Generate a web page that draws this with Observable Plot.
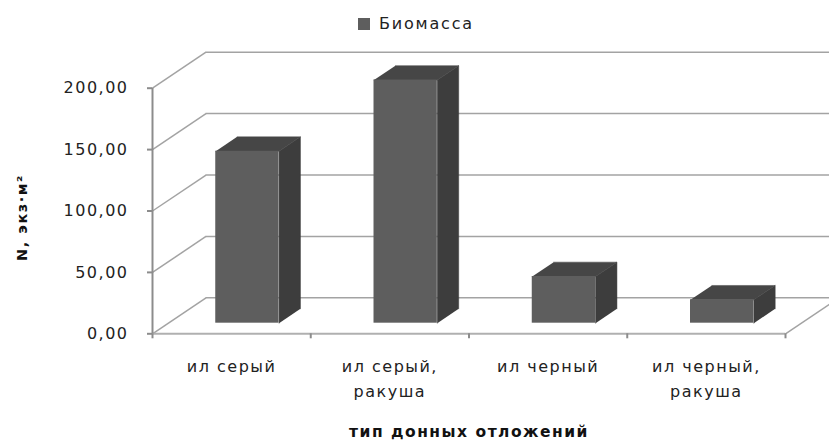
<!DOCTYPE html>
<html><head><meta charset="utf-8">
<script src="https://cdn.jsdelivr.net/npm/d3@7"></script>
<script src="https://cdn.jsdelivr.net/npm/@observablehq/plot@0.6"></script>
<style>
body{margin:0;background:#fff;font-family:"DejaVu Sans",sans-serif;}
#legend{height:40px;position:relative;}
#legend .sw{position:absolute;left:358px;top:18px;width:12px;height:12px;background:#5e5e5e;}
#legend .lt{position:absolute;left:379px;top:13px;font-size:16px;line-height:22px;letter-spacing:1.8px;color:#222;}
#chart svg text{letter-spacing:1.5px;}
</style></head><body>
<div id="legend"><span class="sw"></span><span class="lt"></span></div>
<div id="chart"></div>
<script>
const categories = ["ил серый", "ил серый,\nракуша", "ил черный", "ил черный,\nракуша"];
const values = [140, 198, 38, 19];
const yTicks = [0, 50, 100, 150, 200];
const yTickLabels = ["0,00", "50,00", "100,00", "150,00", "200,00"];
const seriesName = "Биомасса";
const xTitle = "тип донных отложений";
const yTitle = "N, экз·м²";

document.querySelector("#legend .lt").textContent = seriesName;

// 3D depth expressed in data units (x: category bands, y: value units)
const DX = 0.338, DY = 29.3;
const F0 = 0.295, F1 = 0.695, BAR = 0.4;
const bDX = (F1 - F0) * DX, bDY = (F1 - F0) * DY;

const bars = categories.map((c, i) => ({
  i, v: values[i],
  x1: i + 0.5 - BAR / 2 + F0 * DX,
  x2: i + 0.5 + BAR / 2 + F0 * DX,
  y0: F0 * DY,
  y1: values[i] + F0 * DY
}));
const topPts = bars.flatMap(b => [
  {id: b.i, x: b.x1, y: b.y1}, {id: b.i, x: b.x2, y: b.y1},
  {id: b.i, x: b.x2 + bDX, y: b.y1 + bDY}, {id: b.i, x: b.x1 + bDX, y: b.y1 + bDY}
]);
const sidePts = bars.flatMap(b => [
  {id: b.i, x: b.x2, y: b.y0}, {id: b.i, x: b.x2, y: b.y1},
  {id: b.i, x: b.x2 + bDX, y: b.y1 + bDY}, {id: b.i, x: b.x2 + bDX, y: b.y0 + bDY}
]);
const n = categories.length;
const bounds = d3.range(n + 1);
const centers = d3.range(n).map(i => i + 0.5);

const grid = "#a3a3a3", axisC = "#8c8c8c";
const plot = Plot.plot({
  width: 829, height: 403,
  marginLeft: 152, marginRight: 44, marginTop: 47.7, marginBottom: 109.7,
  x: {type: "linear", domain: [0, n], axis: null},
  y: {domain: [0, 200], axis: null},
  style: {fontFamily: "DejaVu Sans, sans-serif", color: "#222", overflow: "visible"},
  marks: [
    Plot.ruleY(yTicks, {y: d => d + DY, x1: DX, x2: n + DX, stroke: grid, strokeWidth: 1.5}),
    Plot.link(yTicks, {x1: 0, y1: d => d, x2: DX, y2: d => d + DY, stroke: grid, strokeWidth: 1.5}),
    Plot.link([0], {x1: n, y1: 0, x2: n + DX, y2: DY, stroke: grid, strokeWidth: 1.5}),
    Plot.ruleY([0], {x1: 0, x2: n, stroke: "#b0b0b0", strokeWidth: 2}),
    Plot.ruleX([0], {y1: 0, y2: 200, stroke: axisC, strokeWidth: 2}),
    Plot.axisY({ticks: yTicks, tickFormat: d => yTickLabels[yTicks.indexOf(d)], tickSize: 5, tickPadding: 19,
      fontSize: 16, stroke: axisC, strokeWidth: 2, fill: "#222", label: null}),
    Plot.axisX({ticks: bounds, tickFormat: () => "", tickSize: 5, stroke: axisC, strokeWidth: 2, label: null}),
    Plot.axisX({ticks: centers, tickFormat: d => categories[Math.floor(d)], tickSize: 0, tickPadding: 21,
      fontSize: 16, lineHeight: 1.55, fill: "#222", label: null}),
    Plot.line(sidePts, {x: "x", y: "y", z: "id", fill: "#3d3d3d", stroke: "#3d3d3d", strokeWidth: 0.5}),
    Plot.line(topPts, {x: "x", y: "y", z: "id", fill: "#464646", stroke: "#464646", strokeWidth: 0.5}),
    Plot.rect(bars, {x1: "x1", x2: "x2", y1: "y0", y2: "y1", fill: "#5e5e5e"}),
    Plot.text([yTitle], {frameAnchor: "left", textAnchor: "middle", rotate: -90, dx: -130, dy: 6.5,
      fontSize: 14.5, fontWeight: "bold", fill: "#111"}),
    Plot.text([xTitle], {frameAnchor: "bottom", textAnchor: "middle", lineAnchor: "middle", dy: 98,
      fontSize: 15.5, fontWeight: "bold", fill: "#111"})
  ]
});
document.getElementById("chart").appendChild(plot);
</script>
</body></html>
